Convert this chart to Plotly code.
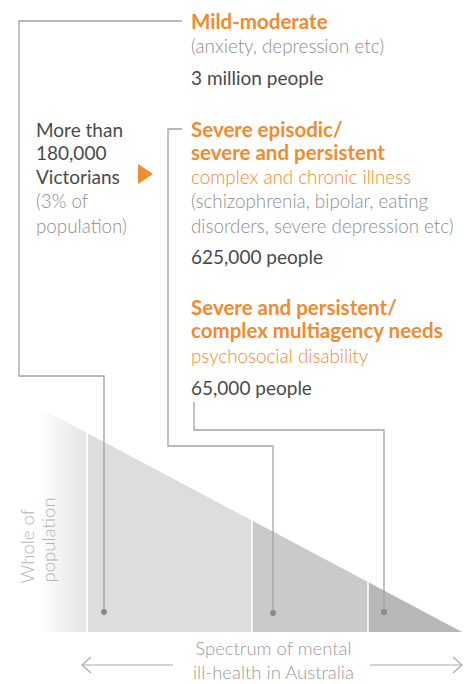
import plotly.graph_objects as go

# ---------------- data ----------------
segment_titles = [
    ["Mild-moderate"],
    ["Severe episodic/", "severe and persistent"],
    ["Severe and persistent/", "complex multiagency needs"],
]
segment_subtitles = [[], ["complex and chronic illness"], ["psychosocial disability"]]
segment_examples = [
    ["(anxiety, depression etc)"],
    ["(schizophrenia, bipolar, eating", "disorders, severe depression etc)"],
    [],
]
segment_people = [3000000, 625000, 65000]
callout_lines = ["More than", "180,000", "Victorians"]
callout_sub = ["(3% of", "population)"]
y_axis_label = ["Whole of", "population"]
x_axis_label = ["Spectrum of mental", "ill-health in Australia"]

# ---------------- layout constants (pixel space) ----------------
W, H = 470, 684
ORANGE = "#f28a2e"
DARK = "#4a4a4a"
GREY = "#8e8e8e"
LINE = "#a3a3a3"
FONT = "Lato"
FS_BOLD, FS_REG, FS_LIGHT = 20.5, 19, 18.8

tri_left, tri_top, tri_base, tri_tip = 38, 407, 632, 462
bounds = [38, 87, 252, 368, 462]
seg_colors = [None, "#dcddde", "#c9cacc", "#b6b7b9"]


def top_y(x):
    return tri_base - (tri_base - tri_top) * (tri_tip - x) / (tri_tip - tri_left)


fig = go.Figure()

# triangle segments
for i in range(len(bounds) - 1):
    x0, x1 = bounds[i], bounds[i + 1]
    xs = [x0, x1, x1, x0, x0]
    ys = [tri_base, tri_base, top_y(x1), top_y(x0), tri_base]
    kw = dict(x=xs, y=ys, mode="lines", fill="toself", line=dict(width=0),
              hoverinfo="skip", showlegend=False)
    if seg_colors[i] is None:
        kw["fillgradient"] = dict(type="horizontal",
                                  colorscale=[[0, "#ffffff"], [1, "#e3e4e5"]])
    else:
        kw["fillcolor"] = seg_colors[i]
    fig.add_trace(go.Scatter(**kw))

# white dividers
for x in bounds[1:-1]:
    fig.add_trace(go.Scatter(x=[x, x], y=[tri_base, top_y(x)], mode="lines",
                             line=dict(color="white", width=1.6),
                             hoverinfo="skip", showlegend=False))

# leader lines
leaders = [
    ([182, 19, 19, 104, 104], [21, 21, 376, 376, 612]),
    ([182, 168, 168, 273, 273], [129, 129, 446, 446, 613]),
    ([194, 194, 384, 384], [402, 430, 430, 612]),
]
for xs, ys in leaders:
    fig.add_trace(go.Scatter(x=xs, y=ys, mode="lines",
                             line=dict(color=LINE, width=1.3),
                             hoverinfo="skip", showlegend=False))
fig.add_trace(go.Scatter(x=[l[0][-1] for l in leaders], y=[l[1][-1] for l in leaders],
                         mode="markers", marker=dict(color="#8a8a8a", size=6),
                         hoverinfo="skip", showlegend=False))

# orange pointer triangle
fig.add_trace(go.Scatter(x=[138, 153, 138, 138], y=[164, 174, 184, 164], mode="lines",
                         fill="toself", fillcolor=ORANGE, line=dict(width=0, color=ORANGE),
                         hoverinfo="skip", showlegend=False))

# bottom arrows
arrow_paths = [
    ([173, 82], [665, 665]), ([91, 82, 91], [657, 665, 673]),
    ([370, 462], [665, 665]), ([453, 462, 453], [657, 665, 673]),
]
for xs, ys in arrow_paths:
    fig.add_trace(go.Scatter(x=xs, y=ys, mode="lines", line=dict(color="#ababab", width=1.2),
                             hoverinfo="skip", showlegend=False))

ann = []


def txt(x, y, s, color, weight=400, size=FS_REG, xanchor="left", angle=0, yanchor="middle"):
    ann.append(dict(x=x, y=y, xref="x", yref="y", text=s, showarrow=False,
                    xanchor=xanchor, yanchor=yanchor, textangle=angle, borderpad=0,
                    font=dict(family=FONT, size=size, color=color, weight=weight)))


def fmt(n):
    if n >= 1000000:
        return f"{n // 1000000} million people"
    return f"{n:,} people"


# block text rows (y positions)
rows = [
    dict(title=[21], sub=[], ex=[45], ppl=77),
    dict(title=[129, 152], sub=[176], ex=[200, 225], ppl=256),
    dict(title=[307, 330], sub=[355], ex=[], ppl=387),
]
TX = 190
for i, r in enumerate(rows):
    for s, y in zip(segment_titles[i], r["title"]):
        txt(TX, y, s, ORANGE, 700, FS_BOLD)
    for s, y in zip(segment_subtitles[i], r["sub"]):
        txt(TX, y, s, ORANGE, 300, FS_LIGHT)
    for s, y in zip(segment_examples[i], r["ex"]):
        txt(TX, y, s, GREY, 300, FS_LIGHT)
    txt(TX, r["ppl"], fmt(segment_people[i]), DARK, 400, FS_REG)

for s, y in zip(callout_lines, [129, 152, 176]):
    txt(35, y, s, DARK, 400, FS_REG)
for s, y in zip(callout_sub, [200, 225]):
    txt(35, y, s, GREY, 300, FS_LIGHT)

# axis labels
txt(26, 585, y_axis_label[0], "#b4b4b4", 300, 18.5, xanchor="center", angle=-90, yanchor="bottom")
txt(47, 584, y_axis_label[1], "#b4b4b4", 300, 18.5, xanchor="center", angle=-90, yanchor="bottom")
txt(273, 684, "<br>".join(x_axis_label), "#9a9a9a", 300, 18.5, xanchor="center",
    yanchor="bottom")

fig.update_layout(
    width=W, height=H, margin=dict(l=0, r=0, t=0, b=0),
    paper_bgcolor="white", plot_bgcolor="white",
    xaxis=dict(range=[0, W], visible=False, fixedrange=True),
    yaxis=dict(range=[H, 0], visible=False, fixedrange=True),
    annotations=ann, showlegend=False,
)

fig.write_html("out.html", config={"displayModeBar": False},
               post_script="document.body.style.margin='0';")
